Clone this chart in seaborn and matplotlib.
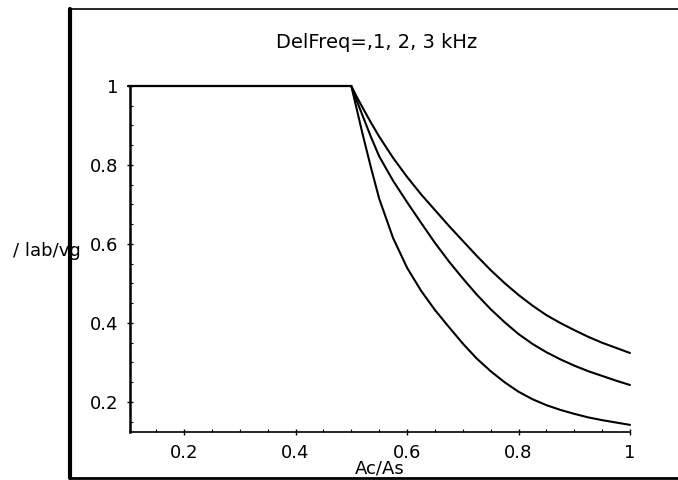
import pandas as pd
import matplotlib.pyplot as plt
import matplotlib.ticker as mticker
import seaborn as sns

# valores
ac_as = [0.1, 0.5, 0.51, 0.52, 0.535, 0.55, 0.575, 0.6, 0.625, 0.65, 0.675, 0.7,
         0.725, 0.75, 0.775, 0.8, 0.825, 0.85, 0.875, 0.9, 0.925, 0.95, 0.975, 1.0]
razao_1khz = [1, 1, 0.972, 0.946, 0.908, 0.872, 0.818, 0.770, 0.726, 0.686, 0.646, 0.608,
              0.570, 0.534, 0.501, 0.471, 0.444, 0.420, 0.400, 0.382, 0.365, 0.350, 0.337, 0.324]
razao_2khz = [1, 1, 0.962, 0.926, 0.872, 0.822, 0.760, 0.706, 0.654, 0.603, 0.556, 0.513,
              0.472, 0.435, 0.402, 0.372, 0.347, 0.326, 0.308, 0.292, 0.278, 0.266, 0.254, 0.243]
razao_3khz = [1, 1, 0.940, 0.880, 0.795, 0.715, 0.615, 0.540, 0.482, 0.433, 0.390, 0.348,
              0.310, 0.278, 0.250, 0.226, 0.207, 0.192, 0.180, 0.170, 0.161, 0.154, 0.148, 0.142]
delfreq = ['1 kHz', '2 kHz', '3 kHz']

df = pd.DataFrame({
    'Ac/As': ac_as * 3,
    'razao': razao_1khz + razao_2khz + razao_3khz,
    'DelFreq': [d for d in delfreq for _ in ac_as],
})

sns.set_style('white')
plt.rcParams['font.family'] = ['DejaVu Sans']
plt.rcParams['text.color'] = 'black'
plt.rcParams['xtick.color'] = 'black'
plt.rcParams['ytick.color'] = 'black'
plt.rcParams['axes.labelcolor'] = 'black'

fig = plt.figure(figsize=(6.78, 4.8), dpi=100)
ax = fig.add_axes([130 / 678, 1 - 432 / 480, 500 / 678, (432 - 86) / 480])

sns.lineplot(data=df, x='Ac/As', y='razao', hue='DelFreq',
             palette=['black'] * 3, linewidth=1.5, legend=False, ax=ax)
for ln in ax.get_lines():
    ln.set_clip_on(False)

ax.set_xlim(0.103, 1.0)
ax.set_ylim(0.124, 1.0)
ax.xaxis.set_major_locator(mticker.FixedLocator([0.2, 0.4, 0.6, 0.8, 1.0]))
ax.yaxis.set_major_locator(mticker.FixedLocator([0.2, 0.4, 0.6, 0.8, 1.0]))
ax.xaxis.set_minor_locator(mticker.MultipleLocator(0.05))
ax.yaxis.set_minor_locator(mticker.MultipleLocator(0.05))
fmt = mticker.FuncFormatter(lambda v, p: '1' if abs(v - 1) < 1e-9 else f'{v:.1f}')
ax.xaxis.set_major_formatter(fmt)
ax.yaxis.set_major_formatter(fmt)
ax.tick_params(which='major', direction='inout', length=5, width=1, labelsize=13, pad=6)
ax.tick_params(which='minor', direction='in', length=2.5, width=0.8)
ax.tick_params(axis='y', left=True, which='both')
ax.tick_params(axis='x', bottom=True, which='both')

for lado in ['top', 'right']:
    ax.spines[lado].set_visible(False)
ax.spines['left'].set_linewidth(1.8)
ax.spines['bottom'].set_linewidth(1.2)
ax.spines['left'].set_color('black')
ax.spines['bottom'].set_color('black')

ax.set_xlabel('Ac/As', fontsize=13, labelpad=-2)
ax.set_ylabel('')
fig.text(13 / 678, 1 - 251 / 480, '/ lab/vg', fontsize=13, ha='left', va='center')
fig.text(377 / 678, 1 - 42 / 480, 'DelFreq=,1, 2, 3 kHz', fontsize=14, ha='center', va='center')

# moldura externa
fig.add_artist(plt.Line2D([70 / 678, 70 / 678], [1 - 9 / 480, 1 - 478 / 480],
                          transform=fig.transFigure, color='black', linewidth=3))
fig.add_artist(plt.Line2D([70 / 678, 1.0], [1 - 9 / 480, 1 - 9 / 480],
                          transform=fig.transFigure, color='black', linewidth=1.2))
fig.add_artist(plt.Line2D([70 / 678, 1.0], [1 - 478 / 480, 1 - 478 / 480],
                          transform=fig.transFigure, color='black', linewidth=2))

fig.savefig('out.png', dpi=100)
